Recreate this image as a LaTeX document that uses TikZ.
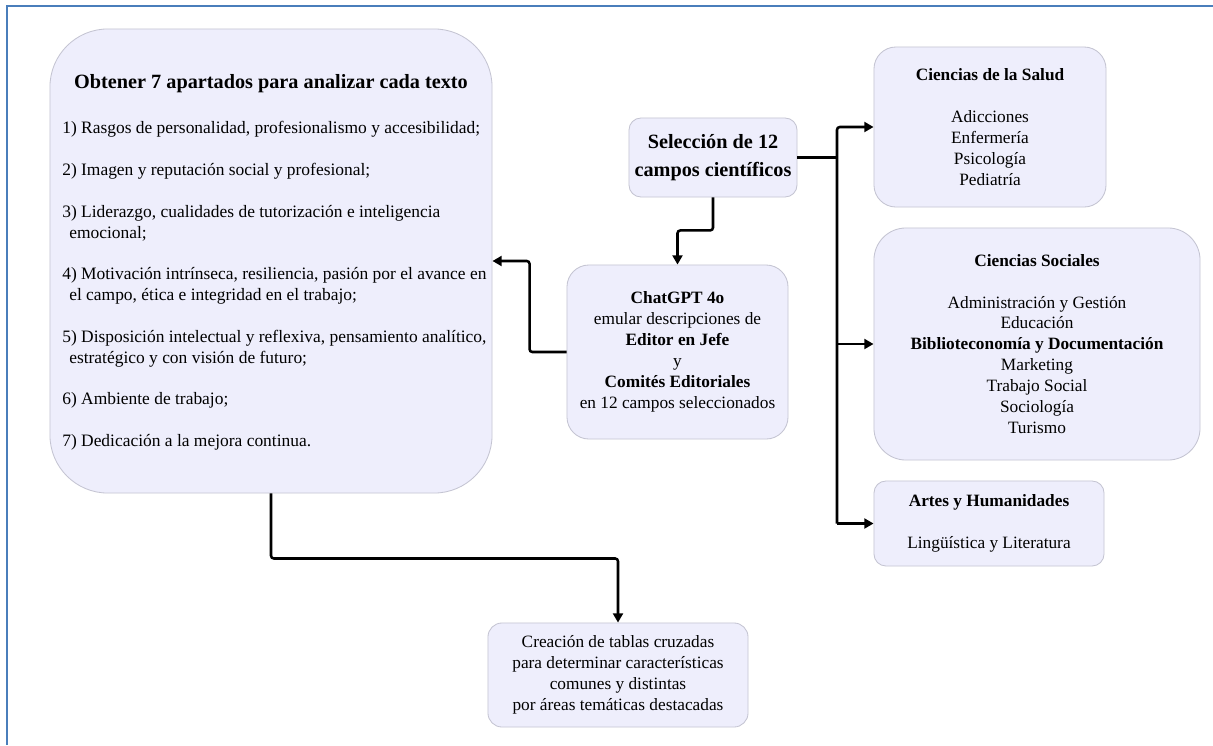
\documentclass[tikz,border=0pt]{standalone}
\usepackage{fontspec}
\setmainfont{Liberation Serif}
\usetikzlibrary{arrows.meta,calc}
\definecolor{boxfill}{HTML}{EEEEFC}
\definecolor{boxline}{HTML}{C4C4D2}
\definecolor{frameblue}{HTML}{4A7EBB}
\begin{document}
\begin{tikzpicture}[x=0.025cm,y=-0.025cm,
  box/.style={draw=boxline, fill=boxfill, line width=0.6pt, align=center, inner sep=0pt,
    font=\fontsize{12.3}{14.9}\selectfont},
  item/.style={anchor=base west, inner sep=0pt, font=\fontsize{12.4}{14.9}\selectfont},
  conn/.style={line width=1.8pt, rounded corners=2pt},
  arr/.style={conn, -{Triangle[length=6.5pt,width=7pt]}}]
\useasboundingbox (0,0) rectangle (1213,745);
\fill[white] (0,0) rectangle (1213,745);
\draw[frameblue, line width=1.4pt] (7,745) -- (7,6) -- (1213,6);

% boxes
\node[box, minimum width=11.05cm, minimum height=11.6cm, rounded corners=1.45cm] (big) at (271,261) {};
\node[box, minimum width=4.2cm, minimum height=1.975cm, rounded corners=0.3cm,
  font=\fontsize{14.4}{20}\selectfont\bfseries] (sel) at (713,157.5) {Selección de 12\\campos científicos};
\node[box, minimum width=5.525cm, minimum height=4.35cm, rounded corners=0.55cm] (chat) at (677.5,352)
  {\textbf{ChatGPT 4o}\\emular descripciones de\\\textbf{Editor en Jefe}\\y\\\textbf{Comités Editoriales}\\en 12 campos seleccionados};
\node[box, minimum width=5.8cm, minimum height=4.0cm, rounded corners=0.55cm] (salud) at (990,127)
  {\textbf{Ciencias de la Salud}\\[14.9pt]Adicciones\\Enfermería\\Psicología\\Pediatría};
\node[box, minimum width=8.15cm, minimum height=5.8cm, rounded corners=0.8cm] (soc) at (1037,344)
  {\textbf{Ciencias Sociales}\\[14.9pt]Administración y Gestión\\Educación\\\textbf{Biblioteconomía y Documentación}\\Marketing\\Trabajo Social\\Sociología\\Turismo};
\node[box, minimum width=5.75cm, minimum height=2.125cm, rounded corners=0.3cm] (art) at (989,523.5)
  {\textbf{Artes y Humanidades}\\[14.9pt]Lingüística y Literatura};
\node[box, minimum width=6.5cm, minimum height=2.6cm, rounded corners=0.35cm] (cre) at (618,675)
  {Creación de tablas cruzadas\\para determinar características\\comunes y distintas\\por áreas temáticas destacadas};

% text of big box
\node[anchor=base, inner sep=0pt, font=\fontsize{14.4}{17}\selectfont\bfseries] (bigt) at (271,88) {Obtener 7 apartados para analizar cada texto};
\node[item] (i1) at (62,133) {1) Rasgos de personalidad, profesionalismo y accesibilidad;};
\node[item] (i2) at (62,175) {2) Imagen y reputación social y profesional;};
\node[item] (i3) at (62,217) {3) Liderazgo, cualidades de tutorización e inteligencia};
\node[item] (i3b) at (69,238) {emocional;};
\node[item] (i4) at (62,279) {4) Motivación intrínseca, resiliencia, pasión por el avance en};
\node[item] (i4b) at (69,300) {el campo, ética e integridad en el trabajo;};
\node[item] (i5) at (62,342) {5) Disposición intelectual y reflexiva, pensamiento analítico,};
\node[item] (i5b) at (69,363) {estratégico y con visión de futuro;};
\node[item] (i6) at (62,404) {6) Ambiente de trabajo;};
\node[item] (i7) at (62,446) {7) Dedicación a la mejora continua.};

% connectors
\coordinate (jb) at (837,523.5);
\draw[conn] (sel.east) -- (sel.east -| jb);
\draw[arr] (jb) |- (salud.west);
\draw[arr] (jb |- soc.west) -- (soc.west);
\draw[arr] (jb) -- (art.west);
\draw[arr] (sel.south) -- ++(0,33) -| (chat.north);
\draw[arr] (chat.west) -- ++(-37,0) |- (big.east);
\draw[arr] (big.south) -- ++(0,65) -| (cre.north);
\end{tikzpicture}
\end{document}
